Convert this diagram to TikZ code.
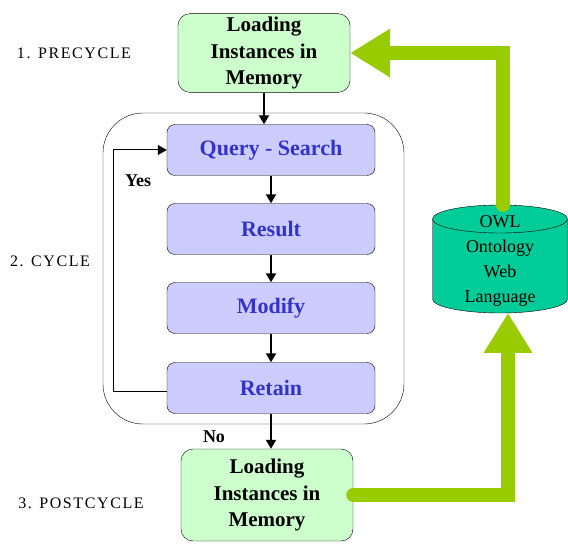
\documentclass[tikz,border=0pt]{standalone}
\usepackage{fontspec}
\setmainfont{Liberation Serif}
\newfontfamily\widefont[LetterSpace=10]{Liberation Serif}
\usetikzlibrary{arrows.meta,shapes.geometric,positioning}

\definecolor{loadgreen}{RGB}{204,255,204}
\definecolor{stepblue}{RGB}{204,204,255}
\definecolor{steptext}{RGB}{51,51,204}
\definecolor{owlteal}{RGB}{0,204,153}
\definecolor{flowgreen}{RGB}{153,204,0}

\tikzset{
  loadbox/.style={draw, fill=loadgreen, rounded corners=12pt, align=center, minimum width=172pt,
    font=\fontsize{21}{26.5}\selectfont\bfseries},
  stepbox/.style={draw, fill=stepblue, rounded corners=8pt, minimum width=208pt, minimum height=51pt,
    text=steptext, font=\fontsize{22}{24}\selectfont\bfseries},
  phase/.style={font=\widefont\fontsize{16}{18}\selectfont},
  answer/.style={font=\fontsize{18}{20}\selectfont\bfseries},
  flow/.style={-{Triangle[length=9pt,width=10pt]}, line width=2pt},
  bigflow/.style={flowgreen, line width=14pt, line cap=round, -{Triangle[length=40pt,width=46pt]}}
}

\begin{document}
\begin{tikzpicture}[x=1pt,y=-1pt]
    \useasboundingbox (0,0) rectangle (568,545);

    % phases
    \node[phase] (pre) at (74,53) {1. PRECYCLE};
    \node[phase] (cyc) at (50,261) {2. CYCLE};
    \node[phase] (post) at (81,503) {3. POSTCYCLE};

    % cycle frame
    \draw[rounded corners=40pt] (103,113) rectangle (404,424);

    \node[loadbox, minimum height=78pt] (loadtop) at (264,53) {Loading\\Instances in\\Memory};
    \node[stepbox] (query) at (271,150) {Query - Search};
    \node[stepbox] (result) at (271,229) {Result};
    \node[stepbox] (modify) at (271,308) {Modify};
    \node[stepbox] (retain) at (271,388) {Retain};
    \node[loadbox, minimum height=92pt] (loadbot) at (267,495) {Loading\\Instances in\\Memory};

    % ontology store
    \filldraw[fill=owlteal] (432.5,219) -- (432.5,299)
        arc[start angle=180, end angle=360, x radius=67.5pt, y radius=14pt] -- (567.5,219);
    \filldraw[fill=owlteal] (500,219) ellipse[x radius=67.5pt, y radius=14pt];
    \node[align=center, font=\fontsize{18}{25}\selectfont] (owl) at (500,261) {OWL\\Ontology\\Web\\Language};
    \coordinate (owltop) at (503,205);
    \coordinate (owlbot) at (508,313);

    \draw[flow] (loadtop.south) -- (loadtop.south |- query.north);
    \draw[flow] (query) -- (result);
    \draw[flow] (result) -- (modify);
    \draw[flow] (modify) -- (retain);
    \draw[flow] (retain.south) -- (retain.south |- loadbot.north);
    \coordinate (loop) at (113,392);
    \draw[-{Triangle[length=9pt,width=10pt]}, line width=1pt] (retain.west |- loop) -- (loop) |- (query.west);

    \node[answer] (yes) at (138,181) {Yes};
    \node[answer] (no) at (214,437) {No};

    \draw[bigflow] (owltop) |- (loadtop.east);
    \draw[bigflow] (loadbot.east) -| (owlbot);
\end{tikzpicture}
\end{document}
